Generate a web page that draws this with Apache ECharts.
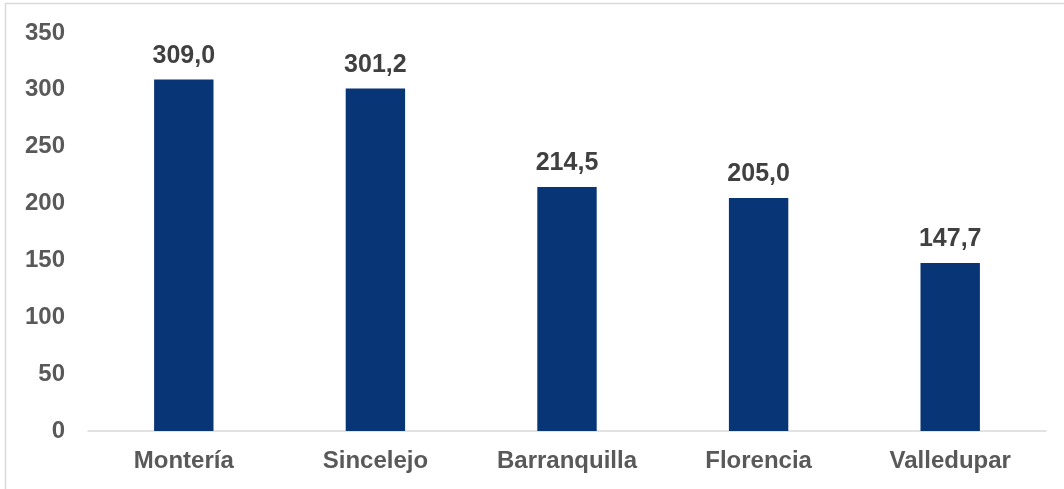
<!DOCTYPE html>
<html>
<head>
<meta charset="utf-8">
<script src="https://cdn.jsdelivr.net/npm/echarts@6/dist/echarts.min.js"></script>
<style>
  html, body { margin: 0; padding: 0; background: #fff; }
  #chart { width: 1064px; height: 489px; }
</style>
</head>
<body>
<div id="chart"></div>
<script>
const cities = ['Montería', 'Sincelejo', 'Barranquilla', 'Florencia', 'Valledupar'];
const values = [309.0, 301.2, 214.5, 205.0, 147.7];

const font = '"Liberation Sans", Arial, sans-serif';
const chart = echarts.init(document.getElementById('chart'));
chart.setOption({
  animation: false,
  graphic: [{
    type: 'rect',
    shape: { x: 5.5, y: 3.5, width: 1200, height: 700 },
    style: { fill: 'none', stroke: '#d9d9d9', lineWidth: 1.5 },
    silent: true
  }],
  grid: { left: 88, right: 18, top: 33, bottom: 58 },
  xAxis: {
    type: 'category',
    data: cities,
    axisTick: { show: false },
    axisLine: { lineStyle: { color: '#d9d9d9', width: 1.5 } },
    axisLabel: {
      color: '#595959',
      fontFamily: font,
      fontWeight: 'bold',
      fontSize: 24,
      margin: 18
    }
  },
  yAxis: {
    type: 'value',
    min: 0,
    max: 350,
    interval: 50,
    splitLine: { show: false },
    axisLine: { show: false },
    axisTick: { show: false },
    axisLabel: {
      color: '#595959',
      fontFamily: font,
      fontWeight: 'bold',
      fontSize: 24,
      margin: 23
    }
  },
  series: [{
    type: 'bar',
    data: values,
    barWidth: '31%',
    itemStyle: { color: '#073575' },
    label: {
      show: true,
      position: 'top',
      distance: 11,
      color: '#404040',
      fontFamily: font,
      fontWeight: 'bold',
      fontSize: 25,
      formatter: p => p.value.toFixed(1).replace('.', ',')
    }
  }]
});
</script>
</body>
</html>
